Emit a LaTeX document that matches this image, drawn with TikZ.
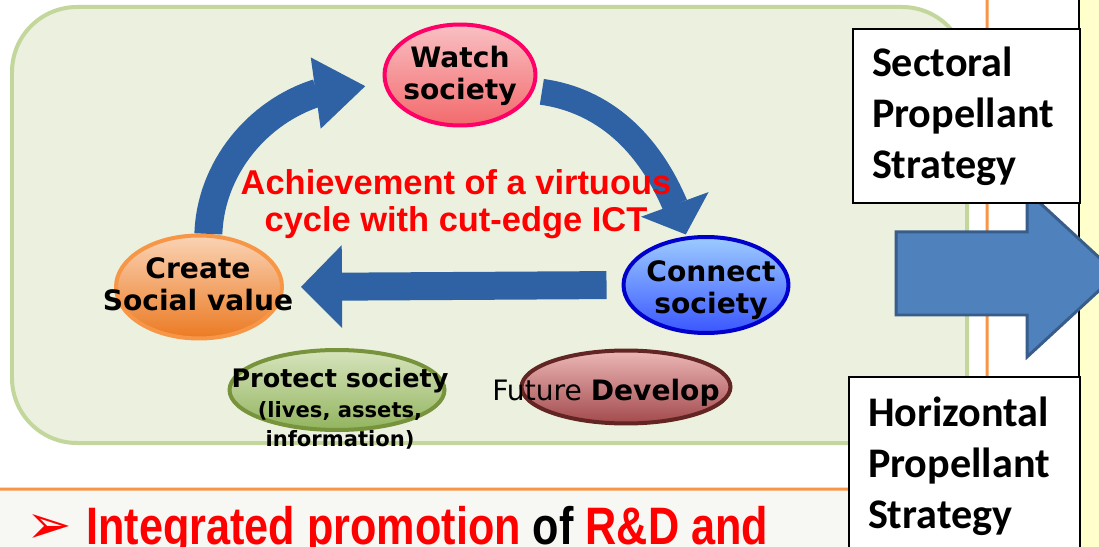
\documentclass[tikz,border=0pt]{standalone}
\usepackage{fontspec}
\setmainfont{Liberation Sans}
\newfontfamily\bubblefont{DejaVu Sans}
\newfontfamily\boxfont{Carlito}
\newfontfamily\narrowfont[FakeStretch=0.82]{Liberation Sans}
\usepackage{tikz}
\usetikzlibrary{shapes.geometric, arrows.meta, bending, positioning}
\definecolor{leafgreen}{HTML}{C3D69B}
\definecolor{leaffill}{HTML}{EBF1DE}
\definecolor{frameorange}{HTML}{F79646}
\definecolor{bandgray}{HTML}{F7F7F3}
\definecolor{noteyellow}{HTML}{FFFFCC}
\definecolor{pushblue}{HTML}{4F81BD}
\definecolor{pushedge}{HTML}{385D8A}
\definecolor{cycblue}{HTML}{2F62A4}
\definecolor{watchrim}{HTML}{FF0066}
\definecolor{connectrim}{HTML}{0000CC}
\definecolor{createrim}{HTML}{F79646}
\definecolor{protectrim}{HTML}{77933C}
\definecolor{developrim}{HTML}{632523}
\tikzset{
  bubble/.style={ellipse, draw, line width=0.08cm, inner sep=0pt},
  bubbletext/.style={font=\bubblefont\bfseries\fontsize{16}{18.2}\selectfont, align=center, inner sep=0pt},
  cycarrow/.style={line width=0.56cm, cycblue},
  stratbox/.style={draw, fill=white, line width=0.04cm, anchor=north west, inner xsep=0.38cm,
    font=\boxfont\bfseries\fontsize{24}{29}\selectfont, align=left},
}
\begin{document}
\begin{tikzpicture}[x=0.02cm, y=-0.02cm]
\useasboundingbox (0,0) rectangle (1099,547);
\clip (0,0) rectangle (1099,547);
\fill[white] (0,0) rectangle (1099,547);
\fill[noteyellow] (1079,-5) rectangle (1110,560);
\draw[line width=0.04cm] (1079,-5) -- (1079,560);
\fill[bandgray] (-5,489) rectangle (848,560);
\draw[frameorange, line width=0.06cm, rounded corners=0.3cm] (-20,-30) rectangle (987,489);
\draw[leafgreen, fill=leaffill, line width=0.08cm, rounded corners=1.3cm] (12,7) rectangle (967,443);
\draw[pushedge, fill=pushblue, line width=0.06cm] (896,232) -- (1027,232) -- (1027,191) -- (1117,274) -- (1027,357) -- (1027,315) -- (896,315) -- cycle;
\node[stratbox, minimum width=4.54cm, minimum height=3.48cm, text width=3.78cm] (sectoral) at (852,28) {Sectoral\\Propellant\\Strategy};
\node[stratbox, minimum width=4.62cm, minimum height=3.58cm, text width=3.86cm] (horizontal) at (848,376) {Horizontal\\Propellant\\Strategy};

\node[bubble, draw=watchrim, top color={rgb,255:red,249;green,192;blue,196}, bottom color={rgb,255:red,242;green,106;blue,108}, minimum width=3.02cm, minimum height=2.02cm] (watch) at (460,75) {};
\node[bubble, draw=connectrim, top color={rgb,255:red,156;green,203;blue,255}, bottom color={rgb,255:red,58;green,86;blue,255}, minimum width=3.30cm, minimum height=1.92cm] (connect) at (706,285) {};
\node[bubble, draw=createrim, top color={rgb,255:red,250;green,211;blue,181}, bottom color={rgb,255:red,235;green,122;blue,34}, minimum width=3.32cm, minimum height=2.06cm] (create) at (199,287) {};
\node[bubble, draw=protectrim, top color={rgb,255:red,215;green,228;blue,189}, bottom color={rgb,255:red,146;green,180;blue,94}, minimum width=4.30cm, minimum height=1.60cm] (protect) at (337,390) {};
\node[bubble, draw=developrim, top color={rgb,255:red,237;green,183;blue,183}, bottom color={rgb,255:red,162;green,74;blue,76}, minimum width=4.18cm, minimum height=1.46cm] (develop) at (626,387) {};

\draw[cycarrow, -{Triangle[length=1.0cm, width=1.44cm, line width=0pt]}, shorten >=0.4cm] (create.80) to[out=88, in=170] (watch.190);
\draw[cycarrow, line width=0.52cm, -{Triangle[length=0.64cm, width=1.44cm, line width=0pt]}, shorten <=0.16cm, shorten >=0.04cm] (watch.-12) to[out=-8, in=107] (connect.112);
\draw[cycarrow, -{Triangle[length=0.82cm, width=1.66cm, line width=0pt]}, shorten <=0.3cm, shorten >=0.34cm] (connect.west) -- (create.east);

\node[bubbletext] (watchtext) at (460,76) {Watch\\society};
\node[bubbletext] (connecttext) at (711,290) {Connect\\society};
\node[bubbletext] (createtext) at (198,284) {Create\\Social value};
\node[bubbletext, font=\bubblefont\bfseries\fontsize{12}{16.8}\selectfont] (protecttext) at (340,409) {{\fontsize{14.5}{16.8}\selectfont Protect society}\\(lives, assets,\\information)};
\node[bubbletext, font=\bubblefont\fontsize{16}{18.2}\selectfont] (developtext) at (606,393) {Future \textbf{Develop}};
\node[font=\bfseries\fontsize{19.6}{21}\selectfont, text=red, align=center, inner sep=0pt] (cycletext) at (456,204) {Achievement of a virtuous\\cycle with cut-edge ICT};

\node[font=\bubblefont\fontsize{31}{31}\selectfont, text=red, anchor=base west, inner sep=0pt] (bullet) at (26,543) {➢};
\node[font=\narrowfont\bfseries\fontsize{30}{30}\selectfont, anchor=base west, inner sep=0pt] (promotion) at (86,544) {\textcolor{red}{Integrated promotion} of \textcolor{red}{R\&D and}};
\end{tikzpicture}
\end{document}
